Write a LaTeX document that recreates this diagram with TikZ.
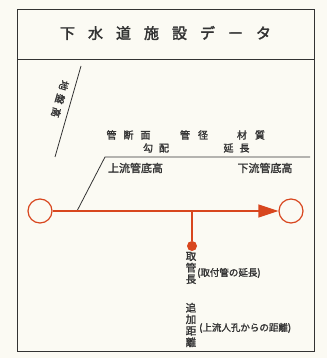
\documentclass[tikz,border=0pt]{standalone}
\usepackage{fontspec}
\usetikzlibrary{arrows.meta}
\newfontfamily\jpb{Noto Sans CJK JP}[FakeBold=1.6]
\newfontfamily\jpt{Noto Sans CJK JP}[FakeBold=2.2]
\definecolor{pipered}{HTML}{D8461E}
\definecolor{ink}{HTML}{333333}
\definecolor{paper}{HTML}{FBFAF3}
\tikzset{
  frame/.style={draw=ink, line width=0.9pt},
  thin/.style={draw=ink, line width=0.8pt},
  lbl/.style={inner sep=0pt, text=ink, font=\jpb\fontsize{10}{10}\selectfont},
  vlbl/.style={inner sep=0pt, text=ink, align=center, font=\jpb\fontsize{10.5}{11.5}\selectfont},
  small/.style={inner sep=0pt, anchor=west, text=ink, font=\jpb\fontsize{9.5}{10}\selectfont},
  mh/.style={circle, draw=pipered, line width=1.2pt, minimum size=24pt, inner sep=0pt},
  pipe/.style={draw=pipered, line width=1.3pt},
}
\begin{document}
\begin{tikzpicture}[x=1pt,y=1pt]
\useasboundingbox[fill=paper] (0,0) rectangle (327,358);
% frame
\draw[frame] (17,7) rectangle (314,349);
\draw[frame] (17,299) -- (314,299);
\node[inner sep=0pt, text=ink, font=\jpt\fontsize{15}{15}\selectfont] (title) at (165.5,325)
  {下\hspace{13pt}水\hspace{13pt}道\hspace{13pt}施\hspace{13pt}設\hspace{13pt}デ\hspace{13pt}ー\hspace{13pt}タ};
% ground height
\coordinate (g1) at (81,292);
\coordinate (g2) at (55,201);
\draw[thin] (g1) -- (g2);
\node[lbl, rotate=-106] (gl) at (60,259) {地\hspace{4pt}盤\hspace{4pt}高};
% pipe data leader
\coordinate (p1) at (77,147);
\coordinate (p2) at (105,201);
\coordinate (p3) at (310,201);
\draw[thin] (p1) -- (p2) -- (p3);
\node[lbl] (r1a) at (128.5,223) {管\hspace{7pt}断\hspace{7pt}面};
\node[lbl] (r1b) at (194,223) {管\hspace{8pt}径};
\node[lbl] (r1c) at (251,223) {材\hspace{8pt}質};
\node[lbl] (r2a) at (156,210) {勾\hspace{6pt}配};
\node[lbl] (r2b) at (236.5,210) {延\hspace{6pt}長};
\node[lbl, font=\jpb\fontsize{11}{11}\selectfont] (r3a) at (135.5,190) {上流管底高};
\node[lbl, font=\jpb\fontsize{11}{11}\selectfont] (r3b) at (265,190) {下流管底高};
% main pipe
\node[mh] (up) at (40,147) {};
\node[mh] (dn) at (291,147) {};
\draw[pipe, -{Triangle[length=20pt,width=13pt]}] (up) -- (dn);
% lateral
\coordinate (lt) at (192,147);
\node[circle, fill=pipered, minimum size=10pt, inner sep=0pt] (dot) at (192,112) {};
\draw[pipe] (lt) -- (dot);
\node[vlbl] (v1) at (191,90) {取\\管\\長};
\node[small] (s1) at (197,85) {(取付管の延長)};
\node[vlbl] (v2) at (191,33) {追\\加\\距\\離};
\node[small] (s2) at (199,30) {(上流人孔からの距離)};
\end{tikzpicture}
\end{document}
